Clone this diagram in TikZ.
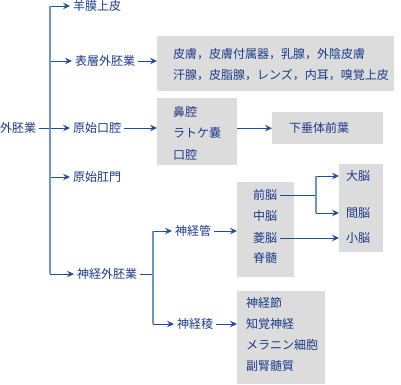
\documentclass[tikz,border=0pt]{standalone}
\usepackage{fontspec}
\setmainfont{Noto Sans CJK JP}
\usetikzlibrary{arrows.meta,positioning}

\definecolor{txtblue}{RGB}{28,58,140}
\definecolor{arrblue}{RGB}{30,78,158}
\definecolor{trunkblue}{RGB}{108,148,200}
\definecolor{boxgray}{RGB}{220,220,220}

\tikzset{
  lbl/.style={anchor=west, inner xsep=3pt, inner ysep=0pt, text=txtblue, font=\fontsize{12}{14}\selectfont},
  grpbox/.style={fill=boxgray, draw=none, anchor=north west, inner sep=0pt},
  arr/.style={draw=arrblue, line width=0.9pt, -{Stealth[length=7pt,width=6.5pt,inset=2.5pt]}},
  link/.style={draw=arrblue, line width=0.9pt},
  trunk/.style={draw=trunkblue, line width=2pt},
}

\begin{document}
\begin{tikzpicture}[x=1pt, y=-1pt]
        \useasboundingbox (0,0) rectangle (401,384);

        % grey boxes
        \node[grpbox, minimum width=237pt, minimum height=55pt] (hyosobox) at (157,36) {};
        \node[grpbox, minimum width=80pt, minimum height=67pt] (kokuubox) at (157,98) {};
        \node[grpbox, minimum width=111pt, minimum height=32pt] (kasuibox) at (272,112) {};
        \node[grpbox, minimum width=57pt, minimum height=95pt] (kanbox) at (237,182) {};
        \node[grpbox, minimum width=44pt, minimum height=88pt] (nobox) at (339,164) {};
        \node[grpbox, minimum width=88pt, minimum height=93pt] (ryobox) at (237,291) {};

        % labels
        \node[lbl] (root) at (-3,128) {外胚業};

        \node[lbl] (yomaku) at (70,6) {羊膜上皮};
        \node[lbl] (hyoso) at (72,61) {表層外胚業};
        \node[lbl] (kokuu) at (70,128) {原始口腔};
        \node[lbl] (komon) at (70,177) {原始肛門};
        \node[lbl] (shinkei) at (74,274) {神経外胚業};

        \node[lbl] (hyosoa) at (170,54) {皮膚，皮膚付属器，乳腺，外陰皮膚};
        \node[lbl] (hyosob) at (170,75) {汗腺，皮脂腺，レンズ，内耳，嗅覚上皮};

        \node[lbl] (bikuu) at (170,112) {鼻腔};
        \node[lbl] (ratoke) at (170,133) {ラトケ嚢};
        \node[lbl] (kouku) at (170,155) {口腔};

        \node[lbl] (kasui) at (286,128) {下垂体前葉};

        \node[lbl] (kan) at (172,231) {神経管};
        \node[lbl] (ryo) at (174,324) {神経稜};

        \node[lbl] (zen) at (250,195) {前脳};
        \node[lbl] (chuno) at (250,216) {中脳};
        \node[lbl] (ryono) at (250,238) {菱脳};
        \node[lbl] (sekizui) at (250,258) {脊髄};

        \node[lbl] (daino) at (343,176) {大脳};
        \node[lbl] (kanno) at (343,213) {間脳};
        \node[lbl] (shono) at (343,238) {小脳};

        \node[lbl] (setsu) at (243,303) {神経節};
        \node[lbl] (chikaku) at (243,324) {知覚神経};
        \node[lbl] (melanin) at (243,345) {メラニン細胞};
        \node[lbl] (fukujin) at (243,366) {副腎髄質};

        % trunk positions
        \coordinate (trk) at (50,0);
        \coordinate (trkn) at (153,0);
        \coordinate (split) at (316,0);

        % connectors
        \draw[arr] (root.east) -- (kokuu.west);
        \draw[arr] (trk |- yomaku.west) -- (yomaku.west);
        \draw[arr] (trk |- hyoso.west) -- (hyoso.west);
        \draw[arr] (trk |- komon.west) -- (komon.west);
        \draw[arr] (trk |- shinkei.west) -- (shinkei.west);
        \draw[trunk] (trk |- yomaku.west) -- (trk |- shinkei.west);

        \draw[arr] (hyoso.east) -- (hyosobox.west |- hyoso.east);
        \draw[arr] (kokuu.east) -- (kokuubox.west |- kokuu.east);
        \draw[arr] (kokuubox.east |- kasuibox.west) -- (kasuibox.west);

        \draw[link] (shinkei.east) -- (trkn |- shinkei.east);
        \draw[arr] (trkn |- kan.west) -- (kan.west);
        \draw[arr] (trkn |- ryo.west) -- (ryo.west);
        \draw[trunk] (trkn |- kan.west) -- (trkn |- ryo.west);

        \draw[arr] (kan.east) -- (kanbox.west |- kan.east);
        \draw[arr] (ryo.east) -- (ryobox.west |- ryo.east);

        \draw[link] (zen.east) -- (split |- zen.east);
        \draw[arr] (split |- daino.west) -- (nobox.west |- daino.west);
        \draw[arr] (split |- kanno.west) -- (nobox.west |- kanno.west);
        \draw[trunk, line width=1.6pt] (split |- daino.west) -- (split |- kanno.west);
        \draw[arr] (ryono.east) -- (nobox.west |- ryono.east);

\end{tikzpicture}
\end{document}
